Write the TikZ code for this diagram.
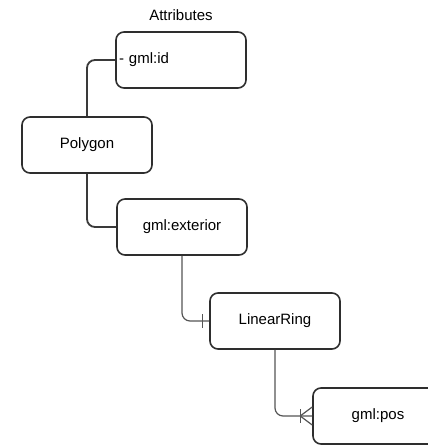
\documentclass[tikz,border=0pt]{standalone}
\usepackage{fontspec}
\setmainfont{Liberation Sans}
\tikzset{>=stealth}
\usetikzlibrary{calc}
\definecolor{boxline}{HTML}{2E2E2E}
\definecolor{linkline}{HTML}{3A3A3A}
\definecolor{thinline}{HTML}{555555}

\begin{document}
\begin{tikzpicture}[x=1pt,y=1pt,
  every node/.style={font=\fontsize{15}{17}\selectfont},
  box/.style={draw=boxline, line width=1.6pt, rounded corners=8pt, minimum width=130pt, minimum height=56pt},
  link/.style={draw=linkline, line width=1.8pt, rounded corners=8pt},
  thinlink/.style={draw=thinline, line width=1.2pt, rounded corners=8pt}]
\path[use as bounding box, clip] (0,0) rectangle (428,-445);
\node (attr) at (181,-15) {Attributes};
\node[box, text width=124pt, align=left, inner xsep=3pt] (gmlid) at (181,-60) {- gml:id};
\node[box] (polygon) at (87,-145) {Polygon};
\node[box] (exterior) at (182,-227) {gml:exterior};
\node[box] (ring) at (275,-321) {LinearRing};
\node[box] (pos) at (378,-416) {gml:pos};

\draw[link] (polygon.north) |- (gmlid.west);
\draw[link] (polygon.south) |- (exterior.west);
\draw[thinlink] (exterior.south) |- (ring.west);
\draw[thinlink] (ring.south) |- (pos.west);
% one
\draw[thinlink] ($(ring.west)+(-7,7)$) -- ++(0,-14);
% one or many
\draw[thinlink] ($(pos.west)+(-12,7)$) -- ++(0,-14);
\draw[thinlink] ($(pos.west)+(-12,0)$) -- ($(pos.west)+(0,9)$)
  ($(pos.west)+(-12,0)$) -- ($(pos.west)+(0,-9)$);
\end{tikzpicture}
\end{document}
